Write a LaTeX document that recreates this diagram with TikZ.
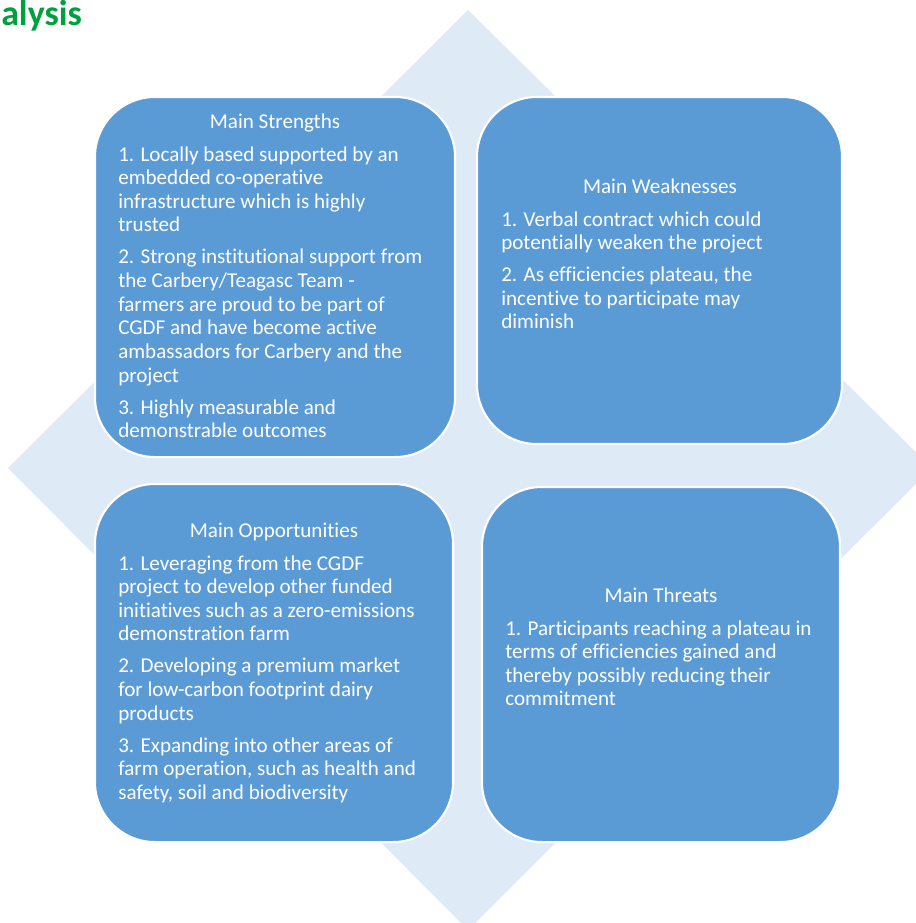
\documentclass[tikz,border=0pt]{standalone}
\usepackage{fontspec}
\setmainfont{Carlito}[Ligatures=NoCommon]
\usetikzlibrary{positioning}
\usepackage{xcolor}
\definecolor{boxblue}{HTML}{5B9BD5}
\definecolor{paleblue}{HTML}{DEEBF7}
\definecolor{headgreen}{HTML}{00A03E}

\begin{document}
\begin{tikzpicture}[x=0.025cm, y=-0.025cm,
  quad/.style={rectangle, draw=white, line width=1.5pt, fill=boxblue, rounded corners=1.5cm, inner sep=0pt},
  heading/.style={anchor=base, text=white, font=\fontsize{15}{16.8}\selectfont, inner sep=0pt},
  body/.style={anchor=base west, text=white, font=\fontsize{15}{16.8}\selectfont, inner sep=0pt}
]
  \useasboundingbox (0,0) rectangle (916,923);
  \clip (0,0) rectangle (916,923);
  % background diamond
  \fill[paleblue] (468,10) -- (932,468) -- (468,930) -- (8,468) -- cycle;

  \node[anchor=base west, text=headgreen, font=\fontsize{25.5}{30}\selectfont\bfseries, inner sep=0pt] (analysis) at (1,25) {alysis};

  \node[quad, minimum width=9cm, minimum height=9cm] (strengths) at (275,277) {};
  \node[quad, minimum width=9.125cm, minimum height=8.675cm] (weaknesses) at (659.5,270.5) {};
  \node[quad, minimum width=8.95cm, minimum height=8.95cm] (opportunities) at (274,663) {};
  \node[quad, minimum width=8.95cm, minimum height=8.875cm] (threats) at (661,664.5) {};

  % strengths
  \node[heading] (strengthsHead) at (275,128) {Main Strengths};
  \node[body] (strengthsText) at (118,161) {\begin{tabular}[t]{@{}l@{}}
    1. Locally based supported by an\\ embedded co-operative\\ infrastructure which is highly\\ trusted\\[6pt]
    2. Strong institutional support from\\ the Carbery/Teagasc Team -\\ farmers are proud to be part of\\ CGDF and have become active\\ ambassadors for Carbery and the\\ project\\[6pt]
    3. Highly measurable and\\ demonstrable outcomes
  \end{tabular}};

  % weaknesses
  \node[heading] (weaknessesHead) at (660,193) {Main Weaknesses};
  \node[body] (weaknessesText) at (501,226) {\begin{tabular}[t]{@{}l@{}}
    1. Verbal contract which could\\ potentially weaken the project\\[6pt]
    2. As efficiencies plateau, the\\ incentive to participate may\\ diminish
  \end{tabular}};

  % opportunities
  \node[heading] (opportunitiesHead) at (274,537) {Main Opportunities};
  \node[body] (opportunitiesText) at (118,570) {\begin{tabular}[t]{@{}l@{}}
    1. Leveraging from the CGDF\\ project to develop other funded\\ initiatives such as a zero-emissions\\ demonstration farm\\[6pt]
    2. Developing a premium market\\ for low-carbon footprint dairy\\ products\\[6pt]
    3. Expanding into other areas of\\ farm operation, such as health and\\ safety, soil and biodiversity
  \end{tabular}};

  % threats
  \node[heading] (threatsHead) at (661,602) {Main Threats};
  \node[body] (threatsText) at (505,635) {\begin{tabular}[t]{@{}l@{}}
    1. Participants reaching a plateau in\\ terms of efficiencies gained and\\ thereby possibly reducing their\\ commitment
  \end{tabular}};
\end{tikzpicture}
\end{document}
